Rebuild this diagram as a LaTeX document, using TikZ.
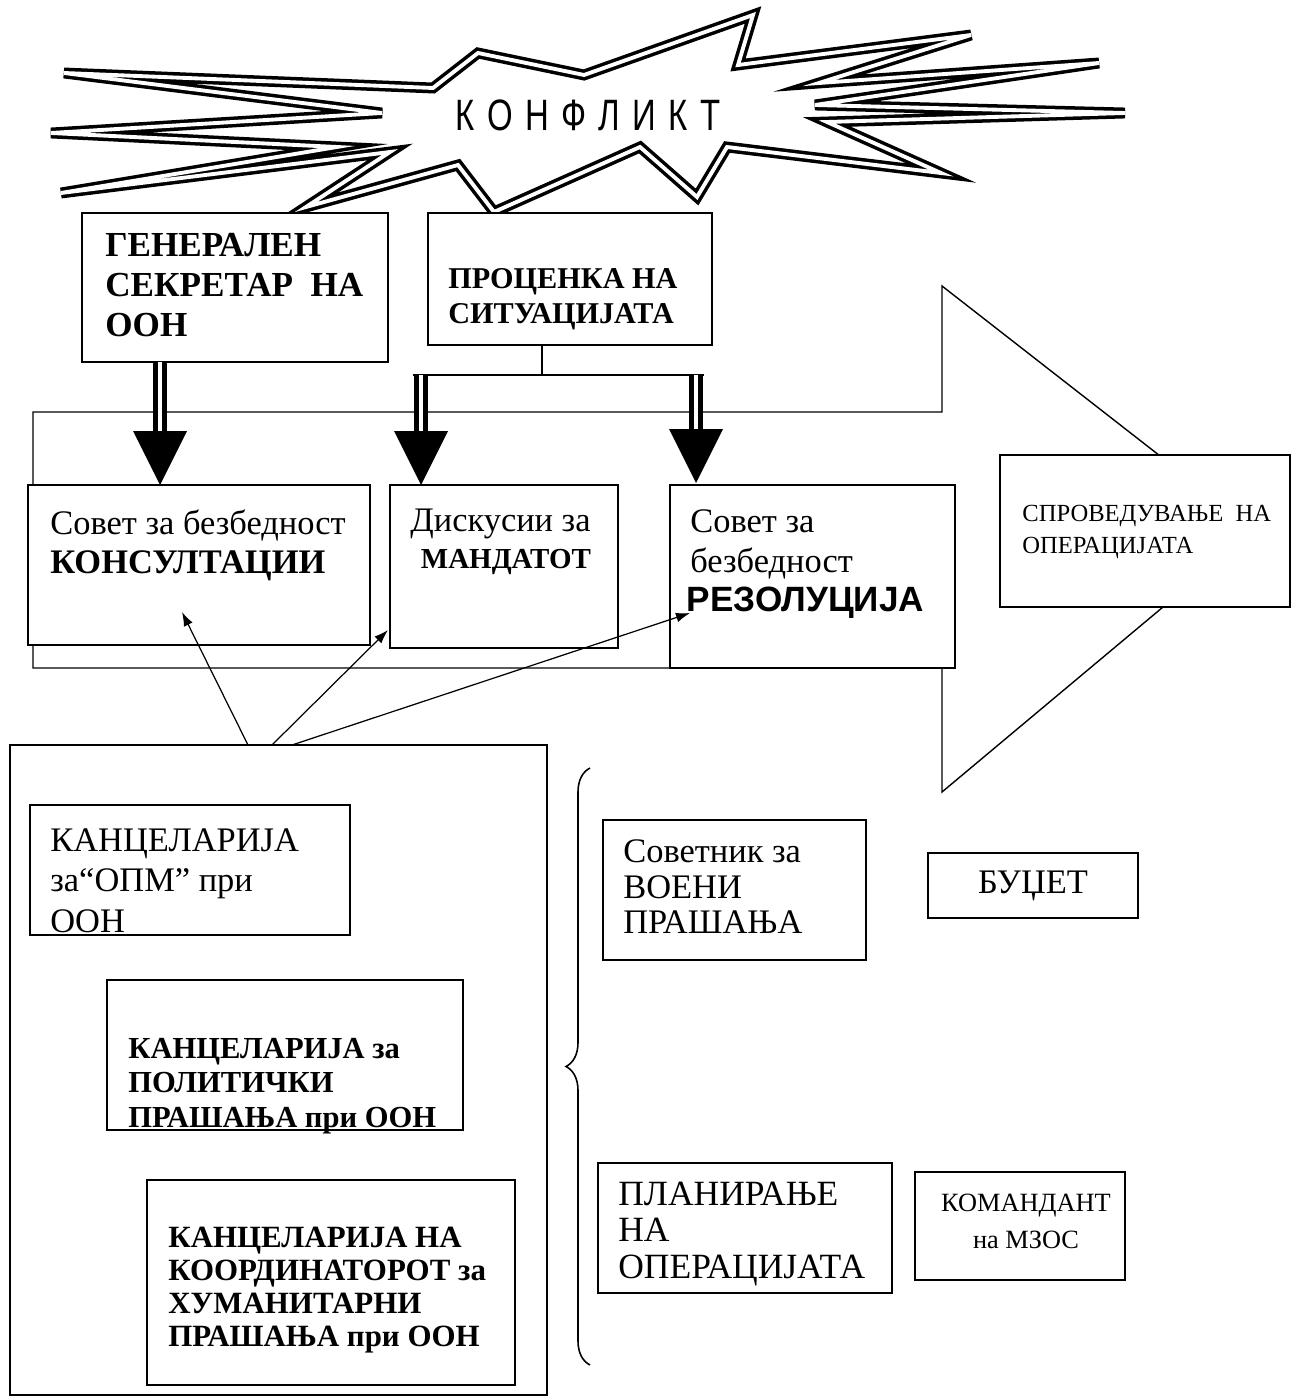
\documentclass[tikz,border=0pt]{standalone}
\usepackage{fontspec}
\setmainfont{Liberation Serif}
\newfontfamily\arialfont{Liberation Sans}
\newfontfamily\konffont[FakeStretch=0.75]{Liberation Sans}
\usetikzlibrary{fit,calc,arrows.meta,decorations.pathreplacing}
\newcommand\myfs[2]{\fontsize{#1}{#2}\selectfont}
\newcommand\ks{\hspace{7pt}}
\newcommand\fatarrow[2]{%
  \draw[dblshaft] (#1) -- ($(#2)+(0,-50)$);
  \fill ($(#2)+(-27,-54)$) -- ($(#2)+(27,-54)$) -- (#2) -- cycle;}
\begin{document}
\begin{tikzpicture}[x=0.02cm,y=-0.02cm,
  bx/.style={draw, line width=1.1pt, fill=white, inner sep=0pt, fit={#1}},
  tx/.style={inner sep=0pt, anchor=north west, align=left},
  reg/.style={font=\myfs{19.6}{#1}},
  expl/.style={draw, fill=white, line width=2pt, double=white, double distance=2.2pt, line join=miter},
  outl/.style={draw, line width=0.8pt},
  dblshaft/.style={draw, line width=2.5pt, double=white, double distance=2.5pt},
  conn/.style={draw, line width=0.9pt},
  thinarr/.style={-{Latex[length=8pt,width=5.5pt]}, line width=0.7pt},
  bracestyle/.style={decorate, decoration={brace, amplitude=0.48cm}, line width=0.9pt}]
\useasboundingbox (0,0) rectangle (1292,1398);

% explosion
\draw[expl] (64,73) -- (433,88) -- (478,53) -- (584,75) -- (753,15) -- (738,65)
  -- (971,35) -- (819,83) -- (1099,63) -- (815,105) -- (1125,113) -- (827,122)
  -- (941,173) -- (727,147) -- (697,197) -- (640,147) -- (494,212) -- (458,165)
  -- (306,207) -- (390,152) -- (61,193) -- (337,147) -- (51,133) -- (382,113) -- cycle;
\node (konf) at (588,115) {\konffont\myfs{25}{27}К\ks О\ks Н\ks Ф\ks Л\ks И\ks К\ks Т};

% big block arrow outline
\draw[outl] (33,412) -- (942,412) -- (942,286) -- (1255,530) -- (942,792) -- (942,668) -- (33,668) -- cycle;

% boxes
\node[bx={(82,213) (388,362)}] (gen) {};
\node[bx={(428,213) (712,345)}] (proc) {};
\node[bx={(28,485) (370,645)}] (kons) {};
\node[bx={(390,485) (618,648)}] (mand) {};
\node[bx={(670,485) (955,668)}] (rez) {};
\node[bx={(1000,455) (1290,607)}] (spr) {};
\node[bx={(10,745) (547,1395)}] (big) {};
\node[bx={(30,805) (350,935)}] (kanc) {};
\node[bx={(107,980) (463,1130)}] (pol) {};
\node[bx={(147,1180) (515,1385)}] (koord) {};
\node[bx={(603,820) (866,960)}] (sov) {};
\node[bx={(928,853) (1138,918)}] (budz) {};
\node[bx={(598,1163) (892,1293)}] (plan) {};
\node[bx={(915,1172) (1125,1280)}] (kom) {};

% texts
\node[tx, font=\bfseries\myfs{20}{22.7}] (gent) at (105,233) {ГЕНЕРАЛЕН\\СЕКРЕТАР\ \ НА\\ООН};
\node[tx, font=\bfseries\myfs{17.2}{19.8}] (proct) at (448,268) {ПРОЦЕНКА НА\\СИТУАЦИЈАТА};
\node[tx, reg=22.7] (konst) at (50,509) {Совет за безбедност\\\textbf{КОНСУЛТАЦИИ}};
\node[tx, reg=21] (mandt) at (410,509) {Дискусии за\\\hspace{6pt}{\bfseries\myfs{16.5}{21}МАНДАТОТ}};
\node[tx, reg=22.7] (rezt) at (690,509) {Совет за\\безбедност\\\hspace{-2pt}{\arialfont\bfseries\myfs{20}{22.7}РЕЗОЛУЦИЈА}};
\node[tx, font=\myfs{14}{18.1}] (sprt) at (1022,505) {СПРОВЕДУВАЊЕ\ \ НА\\ОПЕРАЦИЈАТА};
\begin{scope}
  \clip (30,805) rectangle (350,935);
  \node[tx, reg=23.2] (kanct) at (50,828) {КАНЦЕЛАРИЈА\\за“ОПМ” при\\ООН};
\end{scope}
\node[tx, font=\bfseries\myfs{17.4}{19.6}] (polt) at (128,1038) {КАНЦЕЛАРИЈА за\\ПОЛИТИЧКИ\\ПРАШАЊА при ООН};
\node[tx, font=\bfseries\myfs{17.6}{18.7}] (koordt) at (168,1227) {КАНЦЕЛАРИЈА НА\\КООРДИНАТОРОТ за\\ХУМАНИТАРНИ\\ПРАШАЊА при ООН};
\node[tx, reg=20.4] (sovt) at (623,839) {Советник за\\ВОЕНИ\\ПРАШАЊА};
\node[inner sep=0pt, font=\myfs{19.6}{20}] (budzt) at (1033,886) {БУЏЕТ};
\node[tx, font=\myfs{20.2}{20.6}] (plant) at (618,1182) {ПЛАНИРАЊЕ\\НА\\ОПЕРАЦИЈАТА};
\node[inner sep=0pt, anchor=north, align=center, font=\myfs{15}{21}] (komt) at (1026,1194) {КОМАНДАНТ\\на МЗОС};

% connectors from ПРОЦЕНКА
\coordinate (pj) at (542,375);
\coordinate (j1) at (421,375);
\coordinate (j2) at (696,375);
\draw[conn] (proc.south -| pj) -- (pj);
\draw[conn] ($(j1)+(-8,0)$) -- ($(j2)+(8,0)$);
\coordinate (g1) at (160,362);
\coordinate (k1) at (160,485);
\coordinate (m1) at (421,485);
\coordinate (r1) at (696,483);
\fatarrow{g1}{k1}
\fatarrow{j1}{m1}
\fatarrow{j2}{r1}

% thin arrows from big box
\coordinate (s1) at (248,745);
\coordinate (s2) at (272,745);
\coordinate (s3) at (292,745);
\coordinate (e1) at (182,612);
\coordinate (e2) at (388,630);
\coordinate (e3) at (690,613);
\draw[thinarr] (s1) -- (e1);
\draw[thinarr] (s2) -- (e2);
\draw[thinarr] (s3) -- (e3);

% brace
\draw[bracestyle] (590,1365) -- (590,768);
\end{tikzpicture}
\end{document}
